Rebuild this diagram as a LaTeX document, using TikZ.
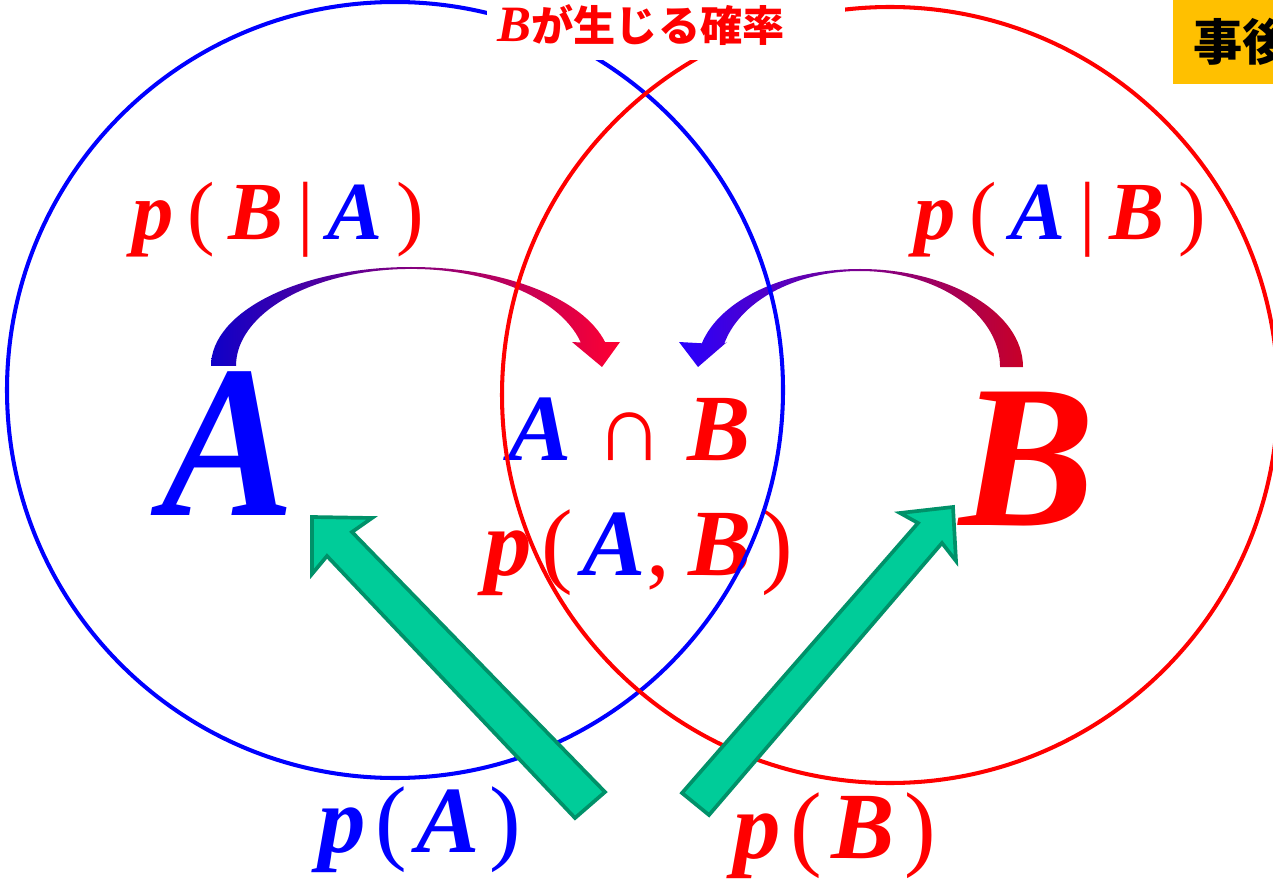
\documentclass[tikz,border=0pt]{standalone}
\usepackage{xcolor}
\usepackage{fontspec}
\newfontfamily\evfont{Liberation Serif}
\newfontfamily\jpfont{Noto Sans CJK JP}
\newcommand{\evv}[1]{{\evfont\bfseries\itshape #1}}
\newcommand{\evp}[1]{{\evfont\mdseries\upshape #1}}
\newcommand{\evsp}{\hspace{0.1em}}
\definecolor{evblue}{RGB}{0,0,255}
\definecolor{evred}{RGB}{255,0,0}
\definecolor{evgreen}{RGB}{0,204,153}
\definecolor{evgreendark}{RGB}{0,145,105}
\definecolor{evorange}{RGB}{255,192,0}
\definecolor{arcblueA}{RGB}{15,0,200}
\definecolor{arcredA}{RGB}{255,0,50}
\definecolor{arcblueB}{RGB}{40,0,255}
\definecolor{arcredB}{RGB}{200,0,40}

\begin{document}
\begin{tikzpicture}[x=0.02cm, y=0.02cm,
    every node/.style={inner sep=0pt},
    vennline/.style={line width=2.3pt},
    bigtext/.style={anchor=base, font=\fontsize{124}{124}\selectfont},
    midtext/.style={anchor=base, font=\fontsize{54}{54}\selectfont},
    condtext/.style={anchor=base, font=\fontsize{47}{47}\selectfont},
    blockarrow/.style={fill=evgreen, draw=evgreendark, line width=2.1pt, line join=miter}
]
\useasboundingbox (0,-881) rectangle (1273,0);
\clip (0,-881) rectangle (1273,0);

% letters and probabilities
\node[bigtext, text=evblue, xscale=0.92] (bigA) at (228,-515) {\evv{A}};
\node[bigtext, text=evred, font=\fontsize{116}{116}\selectfont] (bigB) at (1027,-525) {\evv{B}};
\node[midtext, text=evred] (AcapB) at (630,-460) {\textcolor{evblue}{\evv{A}}\hspace{0.25em}\evp{∩}\hspace{0.25em}\evv{B}};
\node[midtext, text=evred] (pAB) at (639,-575) {\evv{p}\evsp\evp{(}\evsp\textcolor{evblue}{\evv{A}}\evp{,}\evsp\evsp\evv{B}\evsp\evp{)}};
\node[condtext, text=evred] (pBgA) at (278,-240) {\evv{p}\,\evp{(}\,\evv{B}\,\evp{|}\,\textcolor{evblue}{\evv{A}}\,\evp{)}};
\node[condtext, text=evred] (pAgB) at (1060,-240) {\evv{p}\,\evp{(}\,\textcolor{evblue}{\evv{A}}\,\evp{|}\,\evv{B}\,\evp{)}};
\node[midtext, text=evblue] (pA) at (420,-852) {\evv{p}\evsp\evp{(}\evsp\evv{A}\evsp\evp{)}};
\node[midtext, text=evred] (pB) at (835,-858) {\evv{p}\evsp\evp{(}\evsp\evv{B}\evsp\evp{)}};

% curved arrows
\shade[left color=arcblueA, right color=arcredA]
  (211,-366) arc[start angle=180, end angle=14, x radius=200, y radius=99]
  -- (620,-342) -- (602,-367) -- (572,-342) -- (580.8,-342.5)
  arc[start angle=14, end angle=180, x radius=175, y radius=97] -- cycle;
\shade[left color=arcblueB, right color=arcredB]
  (1023,-367) arc[start angle=0, end angle=166, x radius=163, y radius=98]
  -- (679,-342) -- (698,-367) -- (727,-342) -- (724.2,-343.8)
  arc[start angle=166, end angle=0, x radius=140, y radius=96] -- cycle;

% circles
\draw[vennline, evblue] (395,-390) circle[radius=388];
\draw[vennline, evred] (890,-395) circle[radius=388];

% top label
\fill[white] (487,0) rectangle (845,-60);
\node[anchor=base, text=evred, font=\fontsize{24}{24}\selectfont] (label) at (641,-42) {{\fontsize{29}{29}\selectfont\evv{B}}{\jpfont\bfseries が生じる確率}};

% tag
\fill[evorange] (1173,0) rectangle (1290,-84);
\node[anchor=west, font=\fontsize{28}{28}\selectfont] (tag) at (1193,-42) {\jpfont\bfseries 事後};

% block arrows
\draw[blockarrow] (605,-792) -- (352,-532) -- (372,-518) -- (312,-517) -- (312,-574) -- (327,-556) -- (575,-818) -- cycle;
\draw[blockarrow] (682,-793) -- (918,-523) -- (900,-513) -- (953,-507) -- (956,-561) -- (942,-543) -- (709,-815) -- cycle;
\end{tikzpicture}
\end{document}
